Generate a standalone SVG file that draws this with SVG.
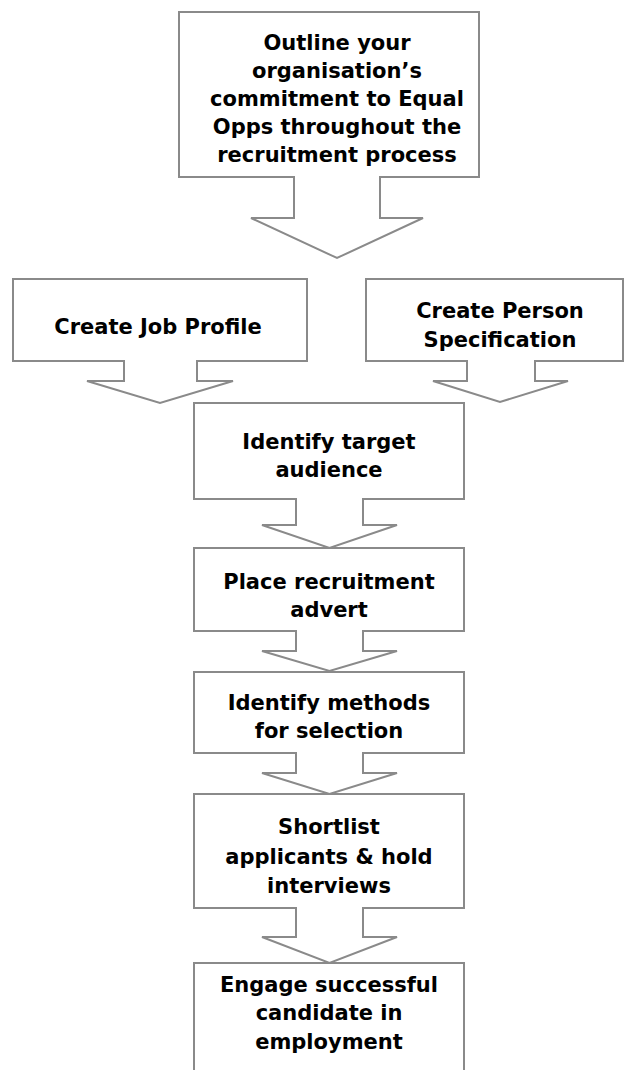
<svg xmlns="http://www.w3.org/2000/svg" width="625" height="1070" viewBox="0 0 625 1070">
  <style>
    .shape { fill: #ffffff; stroke: #8a8a8a; stroke-width: 2; stroke-linejoin: miter; }
    .label { font-family: "DejaVu Sans", "Liberation Sans", sans-serif; font-weight: bold; font-size: 21px; fill: #000000; text-anchor: middle; }
  </style>
  <rect x="0" y="0" width="625" height="1070" fill="#ffffff"/>

  <!-- down-arrow callouts: box outline, stem and head drawn as one polygon -->
  <g id="connectors"></g>

  <g id="node-commitment">
    <polygon class="shape" points="179,12 479,12 479,177 380,177 380,218 423,218 337,258 251,218 294,218 294,177 179,177"/>
    <text class="label" x="337" y="50">Outline your</text>
    <text class="label" x="337" y="78">organisation’s</text>
    <text class="label" x="337" y="106">commitment to Equal</text>
    <text class="label" x="337" y="134">Opps throughout the</text>
    <text class="label" x="337" y="162">recruitment process</text>
  </g>

  <g id="node-job-profile">
    <polygon class="shape" points="13,279 307,279 307,361 197,361 197,381 233,381 160,403 87,381 124,381 124,361 13,361"/>
    <text class="label" x="158" y="334">Create Job Profile</text>
  </g>

  <g id="node-person-spec">
    <polygon class="shape" points="366,279 623,279 623,361 535,361 535,381 568,381 500,402 433,381 467,381 467,361 366,361"/>
    <text class="label" x="500" y="318">Create Person</text>
    <text class="label" x="500" y="347">Specification</text>
  </g>

  <g id="node-target-audience">
    <polygon class="shape" points="194,403 464,403 464,499 363,499 363,525 397,525 329.5,548 262,525 296,525 296,499 194,499"/>
    <text class="label" x="329" y="449">Identify target</text>
    <text class="label" x="329" y="477">audience</text>
  </g>

  <g id="node-advert">
    <polygon class="shape" points="194,548 464,548 464,631 363,631 363,651 397,651 329.5,671 262,651 296,651 296,631 194,631"/>
    <text class="label" x="329" y="589">Place recruitment</text>
    <text class="label" x="329" y="617">advert</text>
  </g>

  <g id="node-selection">
    <polygon class="shape" points="194,672 464,672 464,753 363,753 363,773 397,773 329.5,794 262,773 296,773 296,753 194,753"/>
    <text class="label" x="329" y="710">Identify methods</text>
    <text class="label" x="329" y="738">for selection</text>
  </g>

  <g id="node-shortlist">
    <polygon class="shape" points="194,794 464,794 464,908 363,908 363,937 397,937 329.5,963 262,937 296,937 296,908 194,908"/>
    <text class="label" x="329" y="834">Shortlist</text>
    <text class="label" x="329" y="864">applicants &amp; hold</text>
    <text class="label" x="329" y="893">interviews</text>
  </g>

  <g id="node-engage">
    <rect class="shape" x="194" y="963" width="270" height="130"/>
    <text class="label" x="329" y="992">Engage successful</text>
    <text class="label" x="329" y="1020">candidate in</text>
    <text class="label" x="329" y="1049">employment</text>
  </g>
</svg>
